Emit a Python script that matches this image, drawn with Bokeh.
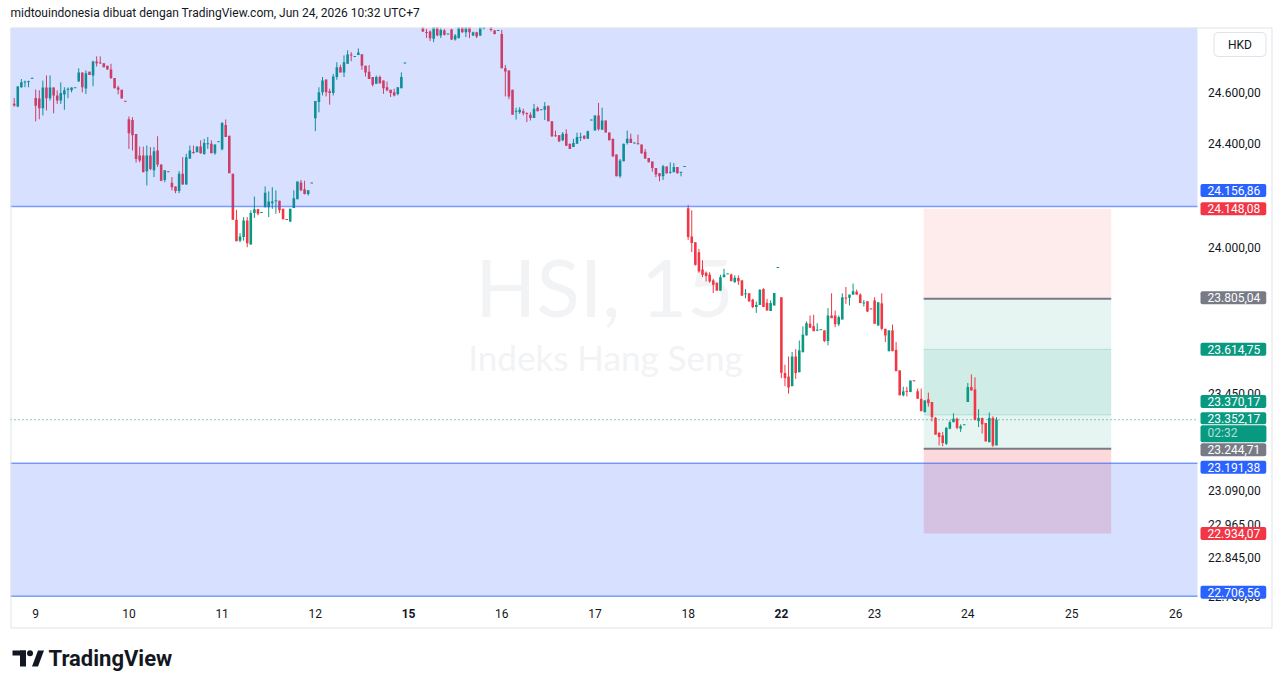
import math
import numpy as np
from bokeh.plotting import figure
from bokeh.models import Range1d, Label, ColumnDataSource, LogScale
from bokeh.core.properties import value
from bokeh.embed import file_html
from bokeh.resources import INLINE

# ---------------- data (HSI, 15 min, log price scale) ----------------
first_bar = -6  # index of the first visible bar; 0 = first bar of Jun 9
opens = [
    24554, 24544, 24619, 24638, 24639, 24653,
    # 9
    24577, 24575, 24537, 24618, 24576, 24618, 24587, 24567, 24591, 24610, 24607, 24616, 24641, 24677, 24614, 24680, 24665, 24720, 24715, 24713, 24703, 24688, 24655, 24618, 24609, 24565,
    # 10
    24494, 24491, 24437, 24353, 24353, 24293, 24353, 24296, 24373, 24319, 24259, 24292, 24248, 24234, 24216, 24283, 24241, 24342, 24366, 24366, 24388, 24358, 24397, 24399, 24362, 24406,
    # 11
    24378, 24472, 24430, 24283, 24106, 24026, 24040, 24103, 24011, 24132, 24146, 24133, 24154, 24154, 24169, 24178, 24179, 24148, 24108, 24099, 24151, 24185, 24249, 24223, 24205, 24247,
    # 12
    24498, 24561, 24599, 24649, 24603, 24596, 24659, 24697, 24677, 24711, 24746, 24739, 24745, 24748, 24703, 24680, 24659, 24633, 24659, 24645, 24619, 24609, 24599, 24593, 24615, 24713,
    # 15
    24884, 24905, 24882, 24869, 24869, 24835, 24838, 24809, 24858, 24822, 24842, 24827, 24846, 24806, 24812, 24860, 24835, 24856, 24822, 24835, 24822, 24848, 24862, 24856, 24842, 24841,
    # 16
    24828, 24693, 24685, 24609, 24524, 24521, 24525, 24517, 24512, 24499, 24539, 24530, 24531, 24547, 24486, 24432, 24432, 24412, 24438, 24399, 24386, 24399, 24423, 24430, 24418, 24490,
    # 17
    24450, 24509, 24453, 24489, 24443, 24418, 24357, 24273, 24331, 24402, 24418, 24401, 24400, 24396, 24368, 24344, 24330, 24305, 24285, 24273, 24311, 24288, 24289, 24309, 24288, 24310,
    # 18
    24150, 24042, 24020, 23982, 23916, 23904, 23897, 23875, 23866, 23836, 23887, 23899, 23897, 23868, 23884, 23875, 23823, 23826, 23802, 23774, 23782, 23842, 23790, 23759, 23780, 23923,
    # 22
    23811, 23526, 23513, 23477, 23588, 23529, 23605, 23667, 23711, 23702, 23686, 23688, 23686, 23646, 23742, 23742, 23709, 23727, 23809, 23809, 23821, 23832, 23821, 23788, 23796, 23768,
    # 23
    23799, 23705, 23788, 23692, 23608, 23686, 23613, 23536, 23443, 23459, 23455, 23498, 23458, 23430, 23380, 23428, 23418, 23359, 23303, 23294, 23263, 23319, 23343, 23356, 23319, 23333,
    # 24
    23418, 23474, 23465, 23347, 23359, 23340, 23269, 23359, 23257,
]
highs = [
    24577, 24624, 24651, 24645, 24645, 24656,
    24610, 24607, 24645, 24665, 24665, 24618, 24607, 24638, 24619, 24618, 24618, 24617, 24693, 24677, 24685, 24680, 24723, 24740, 24740, 24713, 24703, 24711, 24655, 24625, 24609, 24565,
    24505, 24502, 24437, 24388, 24388, 24392, 24386, 24386, 24428, 24319, 24296, 24292, 24270, 24234, 24293, 24347, 24360, 24392, 24392, 24388, 24412, 24418, 24425, 24412, 24396, 24407,
    24483, 24493, 24430, 24283, 24144, 24055, 24116, 24116, 24142, 24195, 24148, 24134, 24234, 24215, 24231, 24219, 24179, 24148, 24108, 24148, 24219, 24253, 24259, 24256, 24219, 24248,
    24565, 24619, 24659, 24649, 24613, 24671, 24717, 24707, 24744, 24764, 24757, 24741, 24771, 24748, 24703, 24706, 24659, 24665, 24665, 24645, 24641, 24609, 24613, 24619, 24677, 24715,
    24931, 24915, 24895, 24886, 24876, 24848, 24842, 24862, 24864, 24854, 24848, 24829, 24850, 24828, 24869, 24869, 24862, 24860, 24837, 24837, 24864, 24869, 24874, 24862, 24844, 24843,
    24844, 24706, 24685, 24609, 24539, 24541, 24535, 24521, 24521, 24554, 24544, 24532, 24561, 24547, 24486, 24450, 24432, 24444, 24455, 24399, 24418, 24442, 24442, 24432, 24450, 24492,
    24509, 24558, 24539, 24489, 24443, 24418, 24357, 24340, 24399, 24450, 24438, 24403, 24434, 24396, 24379, 24344, 24330, 24305, 24285, 24317, 24311, 24327, 24324, 24309, 24290, 24311,
    24163, 24142, 24020, 23995, 23951, 23909, 23906, 23881, 23866, 23896, 23919, 23900, 23901, 23894, 23894, 23875, 23842, 23826, 23805, 23795, 23842, 23845, 23805, 23799, 23827, 23925,
    23811, 23557, 23588, 23605, 23615, 23648, 23701, 23720, 23742, 23745, 23713, 23689, 23686, 23770, 23826, 23761, 23742, 23826, 23850, 23821, 23863, 23840, 23826, 23801, 23796, 23768,
    23811, 23792, 23826, 23692, 23686, 23708, 23642, 23536, 23475, 23475, 23498, 23498, 23468, 23468, 23424, 23453, 23418, 23362, 23307, 23307, 23325, 23350, 23376, 23360, 23335, 23334,
    23489, 23521, 23510, 23391, 23359, 23340, 23379, 23365, 23362,
]
lows = [
    24543, 24541, 24617, 24619, 24619, 24653,
    24486, 24494, 24509, 24528, 24567, 24517, 24554, 24554, 24531, 24576, 24599, 24616, 24641, 24599, 24593, 24667, 24623, 24700, 24711, 24697, 24688, 24651, 24615, 24591, 24575, 24563,
    24379, 24373, 24326, 24327, 24289, 24238, 24296, 24270, 24309, 24254, 24250, 24290, 24219, 24208, 24208, 24241, 24241, 24340, 24360, 24366, 24360, 24358, 24379, 24362, 24356, 24406,
    24373, 24425, 24285, 24106, 24024, 24020, 24026, 24001, 24011, 24113, 24123, 24133, 24154, 24116, 24148, 24129, 24132, 24108, 24106, 24097, 24151, 24185, 24216, 24203, 24199, 24247,
    24448, 24521, 24587, 24583, 24551, 24587, 24648, 24677, 24659, 24711, 24721, 24738, 24745, 24687, 24661, 24651, 24622, 24633, 24633, 24593, 24603, 24581, 24583, 24587, 24615, 24713,
    24869, 24874, 24860, 24858, 24836, 24812, 24800, 24796, 24819, 24812, 24822, 24827, 24804, 24802, 24810, 24833, 24816, 24812, 24820, 24812, 24820, 24846, 24860, 24838, 24826, 24841,
    24693, 24583, 24572, 24512, 24493, 24515, 24509, 24483, 24489, 24499, 24525, 24530, 24491, 24486, 24425, 24426, 24405, 24409, 24391, 24379, 24386, 24399, 24409, 24416, 24418, 24490,
    24450, 24450, 24453, 24443, 24412, 24350, 24273, 24267, 24331, 24396, 24402, 24400, 24396, 24360, 24340, 24327, 24291, 24270, 24254, 24259, 24283, 24283, 24289, 24283, 24273, 24310,
    24029, 23982, 23931, 23904, 23887, 23871, 23866, 23827, 23836, 23836, 23887, 23899, 23872, 23866, 23858, 23817, 23807, 23795, 23770, 23752, 23782, 23774, 23761, 23759, 23780, 23923,
    23507, 23477, 23449, 23477, 23504, 23529, 23602, 23667, 23696, 23683, 23683, 23688, 23642, 23630, 23732, 23698, 23702, 23727, 23786, 23780, 23821, 23821, 23789, 23776, 23755, 23766,
    23711, 23702, 23686, 23642, 23607, 23608, 23533, 23443, 23439, 23439, 23455, 23496, 23430, 23384, 23380, 23401, 23346, 23297, 23257, 23254, 23259, 23317, 23343, 23317, 23307, 23333,
    23418, 23461, 23350, 23325, 23301, 23272, 23269, 23251, 23257,
]
closes = [
    24548, 24622, 24638, 24641, 24641, 24656,
    24547, 24537, 24618, 24576, 24618, 24587, 24567, 24596, 24607, 24612, 24618, 24617, 24677, 24619, 24674, 24667, 24720, 24713, 24713, 24697, 24688, 24655, 24615, 24609, 24575, 24563,
    24440, 24432, 24340, 24334, 24289, 24353, 24301, 24370, 24319, 24256, 24296, 24290, 24231, 24216, 24283, 24241, 24347, 24373, 24364, 24388, 24362, 24402, 24400, 24362, 24396, 24407,
    24479, 24425, 24285, 24106, 24024, 24042, 24103, 24016, 24132, 24146, 24129, 24134, 24210, 24176, 24176, 24180, 24142, 24108, 24106, 24148, 24189, 24253, 24219, 24205, 24219, 24248,
    24565, 24599, 24645, 24599, 24596, 24661, 24697, 24677, 24717, 24747, 24744, 24740, 24755, 24703, 24677, 24651, 24629, 24659, 24635, 24615, 24607, 24596, 24587, 24619, 24659, 24715,
    24905, 24882, 24869, 24874, 24838, 24833, 24811, 24857, 24822, 24844, 24825, 24829, 24806, 24822, 24857, 24835, 24856, 24835, 24835, 24818, 24857, 24858, 24864, 24844, 24828, 24843,
    24693, 24681, 24583, 24512, 24526, 24531, 24517, 24515, 24499, 24535, 24525, 24532, 24545, 24486, 24428, 24428, 24409, 24438, 24391, 24379, 24402, 24425, 24426, 24418, 24447, 24492,
    24509, 24455, 24489, 24443, 24412, 24350, 24273, 24334, 24399, 24418, 24402, 24402, 24397, 24362, 24342, 24327, 24305, 24280, 24273, 24312, 24285, 24289, 24309, 24285, 24290, 24311,
    24040, 24017, 23934, 23909, 23896, 23891, 23871, 23858, 23836, 23887, 23897, 23900, 23872, 23885, 23872, 23817, 23825, 23795, 23774, 23782, 23839, 23774, 23761, 23789, 23827, 23925,
    23527, 23507, 23472, 23588, 23526, 23611, 23670, 23713, 23696, 23683, 23688, 23689, 23646, 23742, 23732, 23709, 23736, 23811, 23807, 23821, 23834, 23821, 23789, 23791, 23757, 23766,
    23711, 23792, 23692, 23667, 23686, 23608, 23533, 23443, 23458, 23457, 23498, 23496, 23430, 23384, 23424, 23414, 23362, 23297, 23288, 23266, 23322, 23343, 23356, 23322, 23328, 23334,
    23474, 23461, 23352, 23359, 23335, 23272, 23359, 23257, 23352.17,
]

day_labels = ["9", "10", "11", "12", "15", "16", "17", "18", "22", "23", "24", "25", "26"]
day_ticks = [0, 26, 52, 78, 104, 130, 156, 182, 208, 234, 260, 289, 318]
bold_days = ["15", "22"]

price_ticks = [24600, 24400, 24000, 23450, 23090, 22965, 22845, 22705]

zone_upper_bottom = 24156.86
zone_lower_top = 23191.38
zone_lower_bottom = 22706.56
pos_entry = 23244.71
pos_target = 23805.04
pos_stop = 22934.07
pos_upper = 24148.08
pos_inner_top = 23614.75
pos_inner_bottom = 23370.17
last_price = 23352.17
countdown = "02:32"
pos_left, pos_right = 247.7, 300.0

# (value, colour, vertical nudge in px applied by the price scale to avoid overlaps)
scale_labels = [
    (24156.86, "#2962ff", -16),
    (24148.08, "#f23645", 0),
    (23805.04, "#787b86", -1),
    (23614.75, "#089981", 0),
    (23370.17, "#089981", -13.5),
    (23244.71, "#787b86", 1),
    (23191.38, "#2962ff", 4),
    (22934.07, "#f23645", 0),
    (22706.56, "#2962ff", -4),
]

# ---------------- page geometry (pixels) ----------------
W, H = 1281, 688
BAR_PX = 3.585          # pixels per bar
X0_PX = 35.2            # pixel of bar 0
REF_P, REF_PX = 24156.86, 206.0
K = 0.00015888          # ln(price) per pixel

x_lo, x_hi = -X0_PX / BAR_PX, (W - X0_PX) / BAR_PX


def sx(px_):
    return x_lo + px_ / BAR_PX


def sy(py_):
    return REF_P * math.exp(-(py_ - REF_PX) * K)


def ypx(price):
    return REF_PX + math.log(REF_P / price) / K


y_lo, y_hi = sy(H), sy(0)
CL, CR, CT, CB = 10, 1197, 27, 597        # chart pane
BR, BB = 1271.5, 627.5                     # outer border (price / time scale)


def fmt(v):
    s = f"{v:,.2f}"
    return s.replace(",", "X").replace(".", ",").replace("X", ".")


FONT = "Roboto"
TXT = "#131722"
UP, DOWN = "#089981", "#f23645"

p = figure(width=W, height=H, output_backend="svg", toolbar_location=None,
           x_range=Range1d(x_lo, x_hi), y_range=Range1d(y_lo, y_hi), y_axis_type="log",
           x_axis_location=None, y_axis_location=None, min_border=0)
p.y_scale = LogScale()
p.grid.visible = False
p.outline_line_color = None
p.background_fill_color = "white"
p.border_fill_color = "white"

# watermark
p.add_layout(Label(x=sx(604), y=sy(285), text="HSI, 15", text_align="center", text_baseline="middle",
                   text_font="Lato", text_font_size="80px", text_color="#f2f3f5", level="underlay"))
p.add_layout(Label(x=sx(605), y=sy(356), text="Indeks Hang Seng", text_align="center",
                   text_baseline="middle", text_font="Lato", text_font_size="35px",
                   text_color="#f2f3f5", level="underlay"))

# position tool zones (below the candles)
p.quad(left=pos_left, right=pos_right, bottom=pos_target, top=pos_upper,
       fill_color=DOWN, fill_alpha=0.1, line_color=None)
p.quad(left=pos_left, right=pos_right, bottom=pos_entry, top=pos_target,
       fill_color=UP, fill_alpha=0.1, line_color=None)
p.quad(left=pos_left, right=pos_right, bottom=pos_inner_bottom, top=pos_inner_top,
       fill_color=UP, fill_alpha=0.1, line_color=None)
p.quad(left=pos_left, right=pos_right, bottom=pos_stop, top=pos_entry,
       fill_color=DOWN, fill_alpha=0.19, line_color=None)
p.segment(x0=[pos_left, pos_left], x1=[pos_right, pos_right], y0=[pos_inner_top, pos_inner_bottom],
          y1=[pos_inner_top, pos_inner_bottom], line_color=UP, line_alpha=0.18, line_width=1)

# last price dotted line
p.segment(x0=[sx(CL)], x1=[sx(CR)], y0=[last_price], y1=[last_price], line_color=UP,
          line_dash="1 3", line_width=1)

# candles
o = np.array(opens, float)
hh = np.array(highs, float)
ll = np.array(lows, float)
c = np.array(closes, float)
idx = np.arange(first_bar, first_bar + len(o))
col = np.where(c >= o, UP, DOWN)
top = np.maximum(o, c)
bot = np.minimum(o, c)
mid = (top + bot) / 2
one_px = mid * (math.exp(K) - 1)
thin = (top - bot) < one_px
top = np.where(thin, mid + one_px / 2, top)
bot = np.where(thin, mid - one_px / 2, bot)
src = ColumnDataSource(dict(x=idx, h=hh, l=ll, top=top, bot=bot, col=col))
p.segment(x0="x", y0="h", x1="x", y1="l", line_color="col", line_width=1, source=src)
p.vbar(x="x", top="top", bottom="bot", width=0.72, fill_color="col", line_color=None, source=src)

# blue zones (drawn over the candles)
p.quad(left=sx(CL), right=sx(CR), bottom=zone_upper_bottom, top=sy(CT),
       fill_color="#2962ff", fill_alpha=0.19, line_color=None)
p.quad(left=sx(CL), right=sx(CR), bottom=zone_lower_bottom, top=zone_lower_top,
       fill_color="#2962ff", fill_alpha=0.19, line_color=None)
for v in (zone_upper_bottom, zone_lower_top, zone_lower_bottom):
    p.segment(x0=[sx(CL)], x1=[sx(CR)], y0=[v], y1=[v], line_color="#2962ff",
              line_alpha=0.6, line_width=1.5)

# position tool lines
p.segment(x0=[pos_left, pos_left], x1=[pos_right, pos_right], y0=[pos_target, pos_entry],
          y1=[pos_target, pos_entry], line_color="#787b86", line_width=2)

# pane clipping at the top and outer border
p.quad(left=x_lo, right=x_hi, bottom=sy(CT), top=y_hi * 1.01, fill_color="white", line_color=None)
p.quad(left=sx(CL + 0.5), right=sx(BR), bottom=sy(BB), top=sy(CT + 0.5), fill_color=None,
       line_color="#e0e3eb", line_width=1)

# price scale tick labels
p.text(x=[sx(1207.5)] * len(price_ticks), y=price_ticks, text=[fmt(t) for t in price_ticks],
       text_font=value(FONT), text_font_size=value("12px"), text_color=TXT,
       text_align="left", text_baseline="middle")

# time scale labels
norm = [(t, lab) for t, lab in zip(day_ticks, day_labels) if lab not in bold_days]
bold = [(t, lab) for t, lab in zip(day_ticks, day_labels) if lab in bold_days]
p.text(x=[t for t, _ in norm], y=[sy(613)] * len(norm), text=[lab for _, lab in norm],
       text_font=value(FONT), text_font_size=value("12px"), text_color=TXT,
       text_align="center", text_baseline="middle")
p.text(x=[t for t, _ in bold], y=[sy(613)] * len(bold), text=[lab for _, lab in bold],
       text_font=value(FONT), text_font_size=value("12px"), text_font_style=value("bold"),
       text_color=TXT, text_align="center", text_baseline="middle")

# price scale value labels (box anchored at its left edge)
LX = sx(1200)
PAD = dict(top=2, bottom=2, left=7, right=6)
for v, colr, nudge in scale_labels:
    p.add_layout(Label(x=LX, y=sy(ypx(v) + nudge), text=fmt(v), text_align="left",
                       text_baseline="middle", text_font=FONT, text_font_size="12px",
                       text_color="white", background_fill_color=colr, border_radius=2,
                       padding=PAD))
p.add_layout(Label(x=LX, y=sy(ypx(last_price) - 1.5), text=fmt(last_price), text_align="left",
                   text_baseline="middle", text_font=FONT, text_font_size="12px", text_color="white",
                   background_fill_color=UP, border_radius=2,
                   padding=dict(top=2, bottom=1, left=7, right=6)))
p.add_layout(Label(x=LX, y=sy(ypx(last_price) + 14), text=countdown, text_align="left",
                   text_baseline="middle", text_font=FONT, text_font_size="12px", text_color="white",
                   text_alpha=0.7, background_fill_color=UP, border_radius=2,
                   padding=dict(top=1, bottom=2, left=7, right=29)))

# currency box
p.add_layout(Label(x=sx(1239.5), y=sy(44), text="HKD", text_align="center", text_baseline="middle",
                   text_font=FONT, text_font_size="12px", text_color=TXT,
                   background_fill_color="white", border_line_color="#e0e3eb", border_radius=4,
                   padding=dict(top=5, bottom=5, left=14, right=14)))

# header
p.add_layout(Label(x=sx(10), y=sy(12), text="midtouindonesia dibuat dengan TradingView.com, Jun 24, 2026 10:32 UTC+7",
                   text_align="left", text_baseline="middle", text_font=FONT, text_font_size="12px",
                   text_color=TXT))

# footer logo (mark + wordmark)
p.quad(left=[sx(12), sx(19.5)], right=[sx(25.5), sx(25.5)], bottom=[sy(655), sy(666)],
       top=[sy(650), sy(650)], fill_color=TXT, line_color=None)
p.scatter(x=[sx(29.5)], y=[sy(652.8)], size=6, marker="circle", fill_color=TXT, line_color=None)
p.patch(x=[sx(31.5), sx(37.5), sx(43.5), sx(37.5)], y=[sy(666), sy(666), sy(650), sy(650)],
        fill_color=TXT, line_color=None)
p.add_layout(Label(x=sx(48), y=sy(658), text="TradingView", text_align="left", text_baseline="middle",
                   text_font=FONT, text_font_size="22px", text_font_style="bold", text_color=TXT))

open("out.html", "w").write(file_html(p, INLINE))
